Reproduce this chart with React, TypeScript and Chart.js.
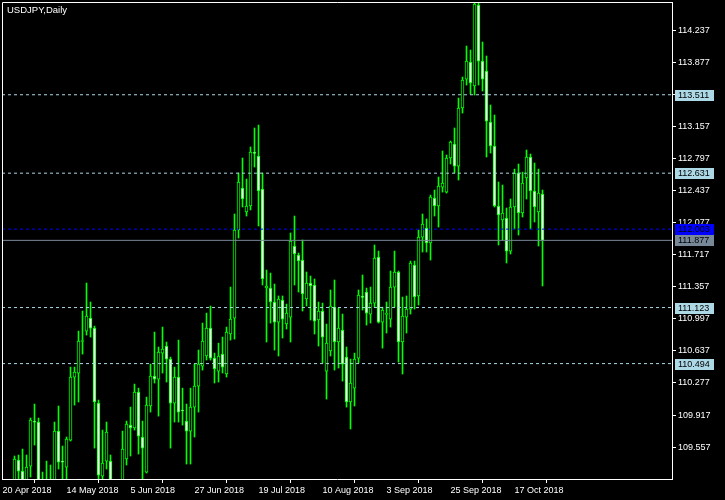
import { useEffect, useRef } from "react";
import { Chart, registerables } from "chart.js";

Chart.register(...registerables);

const chartTitle = "USDJPY,Daily";

// bar index of the first candle in the arrays below (index 0 = 20 Apr 2018)
const firstBar = 3;

const opens = [
  109.075, 109.412, 109.288, 109.165, 109.344, 109.842, 109.838, 109.153, 109.131, 109.052,
  109.131, 109.737, 109.395, 109.333, 109.636, 110.343, 110.388, 110.742, 110.859, 111.005,
  110.893, 110.051, 109.232, 109.400, 109.400, 109.050, 108.950, 109.075, 109.423, 109.804,
  109.771, 110.174, 109.670, 109.277, 110.018, 110.354, 110.320, 110.612, 110.691, 110.545,
  110.051, 110.343, 109.968, 109.849, 109.737, 110.006, 110.242, 110.466, 110.579, 110.893,
  110.556, 110.410, 110.601, 110.377, 110.826, 111.005, 111.993, 112.464, 112.195, 112.263,
  112.860, 112.824, 112.453, 111.342, 111.342, 111.185, 110.960, 111.207, 110.938, 111.016,
  111.814, 111.712, 111.656, 111.219, 111.398, 111.376, 110.983, 111.084, 110.410, 110.635,
  111.128, 110.736, 110.870, 110.567, 110.063, 110.219, 110.556, 111.245, 111.297, 111.050,
  111.173, 111.690, 110.960, 111.046, 110.994, 111.353, 111.522, 110.736, 111.016, 111.106,
  111.600, 111.253, 111.914, 112.016, 111.847, 112.352, 112.263, 112.475, 112.419, 112.801,
  112.958, 112.711, 113.362, 113.687, 113.878, 113.609, 114.518, 113.889, 113.777, 113.205,
  112.936, 112.263, 112.106, 112.128, 111.757, 112.251, 112.633, 112.184, 112.577, 112.812,
  112.431, 112.195, 112.397,
];

const highs = [
  109.457, 109.468, 109.535, 109.468, 109.883, 110.040, 109.883, 109.277, 109.400, 109.356,
  109.838, 110.018, 109.569, 109.670, 110.455, 110.455, 110.859, 111.084, 111.398, 111.185,
  110.915, 110.085, 109.748, 109.838, 109.468, 109.150, 109.150, 109.737, 109.849, 110.006,
  110.264, 110.219, 109.849, 110.118, 110.489, 110.848, 110.680, 110.904, 110.736, 110.567,
  110.455, 110.758, 110.219, 110.040, 110.219, 110.489, 110.646, 110.949, 111.061, 111.140,
  110.612, 110.724, 110.792, 110.904, 111.353, 112.173, 112.633, 112.801, 112.565, 112.925,
  113.138, 113.171, 112.633, 111.544, 111.510, 111.387, 111.253, 111.253, 111.162, 111.960,
  112.150, 111.735, 111.881, 111.522, 111.477, 111.444, 111.185, 111.173, 110.938, 111.320,
  111.432, 111.117, 111.050, 110.680, 110.545, 110.612, 111.320, 111.488, 111.342, 111.353,
  111.825, 111.757, 111.128, 111.185, 111.533, 111.757, 111.533, 111.241, 111.253, 111.645,
  111.645, 111.993, 112.173, 112.117, 112.385, 112.442, 112.588, 112.880, 112.835, 112.992,
  113.138, 113.474, 113.710, 114.058, 114.013, 114.563, 114.552, 114.103, 113.946, 113.396,
  113.284, 112.532, 112.498, 112.240, 112.341, 112.677, 112.734, 112.643, 112.891, 112.846,
  112.745, 112.677, 112.442,
];

const lows = [
  109.019, 109.165, 109.075, 109.109, 109.221, 109.580, 109.019, 109.019, 108.997, 108.997,
  109.075, 109.311, 109.187, 109.165, 109.625, 110.029, 110.063, 110.601, 110.814, 110.792,
  109.546, 109.187, 109.198, 109.311, 109.120, 108.800, 108.700, 109.019, 109.356, 109.457,
  109.748, 109.479, 109.198, 109.266, 109.950, 110.276, 109.905, 110.388, 110.287, 109.546,
  109.838, 109.838, 109.804, 109.367, 109.367, 109.670, 109.950, 110.421, 110.534, 110.534,
  110.276, 110.287, 110.388, 110.343, 110.758, 110.769, 111.903, 112.251, 112.150, 112.218,
  112.700, 112.038, 111.376, 110.736, 110.949, 110.646, 110.579, 110.781, 110.882, 110.736,
  111.376, 111.297, 111.084, 111.140, 110.983, 110.826, 110.691, 110.500, 110.096, 110.579,
  110.421, 110.444, 110.298, 110.006, 109.760, 110.018, 110.500, 111.095, 110.926, 110.949,
  111.128, 110.949, 110.668, 110.837, 110.904, 111.128, 110.511, 110.377, 110.837, 111.050,
  111.106, 111.151, 111.746, 111.746, 111.656, 112.150, 112.027, 112.419, 112.408, 112.734,
  112.633, 112.554, 113.306, 113.620, 113.519, 113.508, 113.620, 113.553, 112.812, 112.857,
  112.251, 111.825, 111.881, 111.623, 111.724, 112.004, 111.937, 112.139, 112.341, 112.004,
  112.083, 111.814, 111.365,
];

const closes = [
  109.423, 109.288, 109.131, 109.333, 109.861, 109.836, 109.075, 109.075, 109.075, 109.142,
  109.737, 109.389, 109.388, 109.647, 110.343, 110.399, 110.747, 110.752, 111.027, 110.893,
  110.063, 109.243, 109.378, 109.726, 109.165, 108.950, 108.850, 109.535, 109.816, 109.771,
  110.174, 109.681, 109.546, 110.029, 110.354, 110.320, 110.623, 110.657, 110.545, 110.051,
  110.343, 109.950, 109.962, 109.737, 110.006, 110.242, 110.489, 110.747, 110.893, 110.556,
  110.433, 110.579, 110.455, 110.848, 110.994, 111.993, 112.532, 112.341, 112.263, 112.868,
  112.853, 112.431, 111.444, 111.365, 111.185, 110.960, 111.219, 110.994, 111.061, 111.870,
  111.724, 111.645, 111.275, 111.398, 111.365, 110.971, 111.084, 110.792, 110.724, 111.140,
  110.736, 110.893, 110.489, 110.063, 110.276, 110.545, 111.264, 111.238, 111.061, 111.173,
  111.679, 110.960, 111.095, 111.055, 111.353, 111.522, 110.736, 111.027, 111.106, 111.623,
  111.241, 111.914, 112.061, 111.847, 112.363, 112.263, 112.487, 112.520, 112.801, 112.981,
  112.711, 113.362, 113.676, 113.889, 113.643, 114.529, 113.889, 113.687, 113.216, 112.936,
  112.263, 112.162, 112.184, 111.757, 112.251, 112.633, 112.184, 112.520, 112.812, 112.431,
  112.251, 112.408, 111.877,
];

const dateTickBars = [0, 16, 32, 48, 64, 80, 96, 112, 128];
const dateTickLabels = [
  "20 Apr 2018", "14 May 2018", "5 Jun 2018", "27 Jun 2018", "19 Jul 2018",
  "10 Aug 2018", "3 Sep 2018", "25 Sep 2018", "17 Oct 2018",
];

const priceTicks = [
  109.557, 109.917, 110.277, 110.637, 110.997, 111.357, 111.717,
  112.077, 112.437, 112.797, 113.157, 113.517, 113.877, 114.237,
];

const levelPrices = [113.511, 112.631, 112.003, 111.877, 111.123, 110.494];
const levelKinds = ["level", "level", "ask", "bid", "level", "level"];

const priceMin = 109.199;
const priceMax = 114.552;
const barMin = -0.125;
const barMax = 167.375;

const LIME = "#00ff00";
const kindStyle: Record<string, { color: string; dash: number[]; box: string }> = {
  level: { color: "#add8e6", dash: [3, 3], box: "#add8e6" },
  ask: { color: "#0000ff", dash: [3, 3], box: "#0000ff" },
  bid: { color: "#778899", dash: [], box: "#778899" },
};

const FONT = "'Liberation Sans', Arial, sans-serif";

export default function App() {
  const ref = useRef<HTMLCanvasElement | null>(null);

  useEffect(() => {
    const canvas = ref.current;
    if (!canvas) return;

    const bars = opens.map((o, i) => ({ x: firstBar + i, o, h: highs[i], l: lows[i], c: closes[i] }));

    const levelDatasets = levelPrices.map((p, i) => {
      const st = kindStyle[levelKinds[i]];
      return {
        type: "line" as const,
        data: [
          { x: barMin, y: p },
          { x: barMax, y: p },
        ],
        borderColor: st.color,
        borderWidth: 1,
        borderDash: st.dash,
        pointRadius: 0,
        fill: false,
        order: 0,
      };
    });

    const framePlugin = {
      id: "mtFrame",
      afterDraw(chart: any) {
        const { ctx, chartArea, scales } = chart;
        ctx.save();
        // frame (left & top)
        ctx.strokeStyle = "#ffffff";
        ctx.lineWidth = 1;
        ctx.beginPath();
        ctx.moveTo(chartArea.left + 0.5, chartArea.bottom);
        ctx.lineTo(chartArea.left + 0.5, chartArea.top + 0.5);
        ctx.lineTo(chartArea.right + 1, chartArea.top + 0.5);
        ctx.stroke();
        // title
        ctx.fillStyle = "#ffffff";
        ctx.font = `9.5px ${FONT}`;
        ctx.textBaseline = "alphabetic";
        ctx.textAlign = "left";
        ctx.fillText(chartTitle, chartArea.left + 5, chartArea.top + 11);
        // level labels on the price axis
        ctx.font = `9px ${FONT}`;
        ctx.textBaseline = "middle";
        levelPrices.forEach((p, i) => {
          const st = kindStyle[levelKinds[i]];
          const y = Math.round(scales.y.getPixelForValue(p));
          ctx.fillStyle = st.box;
          ctx.fillRect(chartArea.right + 3, y - 5, 39, 11);
          ctx.fillStyle = "#000000";
          ctx.fillText(p.toFixed(3), chartArea.right + 6, y + 0.5);
        });
        ctx.restore();
      },
    };

    const chart = new Chart(canvas, {
      type: "bar",
      data: {
        datasets: [
          ...levelDatasets,
          {
            type: "bar",
            data: bars.map((b) => ({ x: b.x, y: [b.o, b.c] })),
            backgroundColor: bars.map((b) => (b.c < b.o ? "#ffffff" : "#000000")),
            borderColor: LIME,
            borderWidth: 1,
            borderSkipped: false,
            barThickness: 3,
            minBarLength: 1,
            grouped: false,
            order: 1,
          },
          {
            type: "bar",
            data: bars.map((b) => ({ x: b.x, y: [b.l, b.h] })),
            backgroundColor: LIME,
            borderWidth: 0,
            barThickness: 1,
            grouped: false,
            order: 2,
          },
        ] as any,
      },
      options: {
        responsive: false,
        devicePixelRatio: 1,
        animation: false,
        events: [],
        layout: { padding: { left: 2, top: 2, right: 0, bottom: 0 } },
        plugins: {
          legend: { display: false },
          tooltip: { enabled: false },
          title: { display: false },
        },
        scales: {
          x: {
            type: "linear",
            position: "bottom",
            min: barMin,
            max: barMax,
            offset: false,
            grid: { display: true, drawOnChartArea: false, drawTicks: true, tickLength: 4, color: "#ffffff" },
            border: { display: true, color: "#ffffff" },
            ticks: {
              color: "#ffffff",
              font: { family: FONT, size: 9 },
              align: "start",
              maxRotation: 0,
              autoSkip: false,
              padding: 2,
              callback: (_v: any, i: number) => dateTickLabels[i],
            },
            afterBuildTicks: (scale: any) => {
              scale.ticks = dateTickBars.map((v) => ({ value: v }));
            },
            afterFit: (scale: any) => {
              scale.height = 21;
              scale.paddingLeft = 0;
              scale.paddingRight = 0;
            },
          } as any,
          y: {
            type: "linear",
            position: "right",
            min: priceMin,
            max: priceMax,
            grid: { display: true, drawOnChartArea: false, drawTicks: true, tickLength: 4, color: "#ffffff" },
            border: { display: true, color: "#ffffff" },
            ticks: {
              color: "#ffffff",
              font: { family: FONT, size: 9 },
              padding: 2,
              autoSkip: false,
              callback: (v: any) => Number(v).toFixed(3),
            },
            afterBuildTicks: (scale: any) => {
              scale.ticks = priceTicks.map((v) => ({ value: v }));
            },
            afterFit: (scale: any) => {
              scale.width = 53;
              scale.paddingTop = 0;
              scale.paddingBottom = 0;
            },
          } as any,
        },
      },
      plugins: [framePlugin],
    });

    return () => chart.destroy();
  }, []);

  return (
    <div style={{ position: "fixed", left: 0, top: 0, width: 725, height: 500, background: "#000000" }}>
      <canvas ref={ref} width={725} height={500} style={{ display: "block", width: 725, height: 500 }} />
    </div>
  );
}
